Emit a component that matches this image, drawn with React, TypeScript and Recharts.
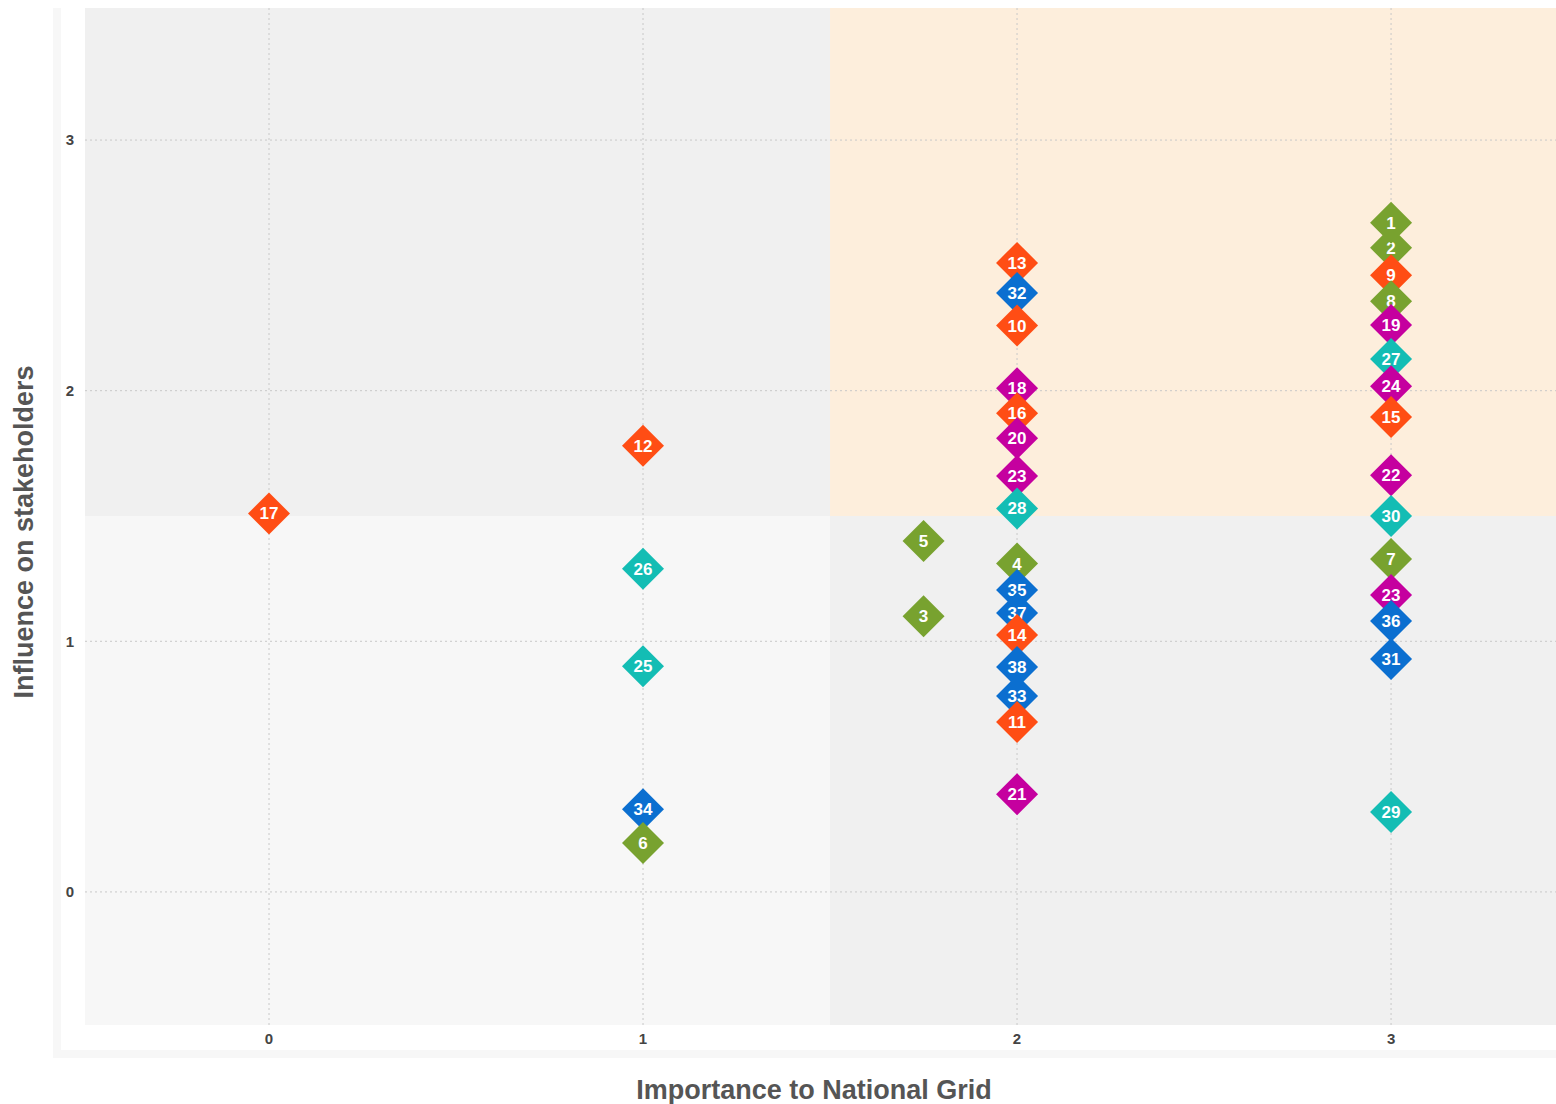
import React from "react";
import {
  ScatterChart,
  Scatter,
  XAxis,
  YAxis,
  ReferenceArea,
  ReferenceLine,
} from "recharts";

// keep the page from scrolling so the chart can run to the window edge
if (typeof document !== "undefined") {
  document.documentElement.style.overflow = "hidden";
  document.body.style.overflow = "hidden";
}

// colour per stakeholder group
const GROUP_COLORS: Record<string, string> = {
  green: "#78a22f",
  orange: "#ff4d14",
  blue: "#0b6fd0",
  teal: "#13bdb4",
  magenta: "#c5009f",
};

// points listed in the order they are painted (mostly top to bottom per column)
const POINT_IDS = [
  17, 12, 26, 25, 34, 6, 5, 3, 13, 32, 10, 18, 16, 20, 23, 28, 4, 35, 37, 14,
  38, 33, 11, 21, 2, 1, 9, 8, 19, 27, 24, 15, 22, 30, 7, 23, 36, 31, 29,
];
const POINT_X = [
  0, 1, 1, 1, 1, 1, 1.75, 1.75, 2, 2, 2, 2, 2, 2, 2, 2, 2, 2, 2, 2, 2, 2, 2, 2,
  3, 3, 3, 3, 3, 3, 3, 3, 3, 3, 3, 3, 3, 3, 3,
];
const POINT_Y = [
  1.51, 1.78, 1.29, 0.9, 0.33, 0.195, 1.4, 1.1, 2.51, 2.39, 2.26, 2.01, 1.91,
  1.81, 1.66, 1.53, 1.31, 1.205, 1.113, 1.025, 0.897, 0.782, 0.678, 0.39,
  2.57, 2.67, 2.461, 2.357, 2.262, 2.126, 2.018, 1.895, 1.663, 1.5, 1.328,
  1.185, 1.081, 0.929, 0.319,
];
const POINT_GROUP = [
  "orange", "orange", "teal", "teal", "blue", "green", "green", "green",
  "orange", "blue", "orange", "magenta", "orange", "magenta", "magenta", "teal",
  "green", "blue", "blue", "orange", "blue", "blue", "orange", "magenta",
  "green", "green", "orange", "green", "magenta", "teal", "magenta", "orange",
  "magenta", "teal", "green", "magenta", "blue", "blue", "teal",
];

const X_TICKS = [0, 1, 2, 3];
const Y_TICKS = [0, 1, 2, 3];
const X_DOMAIN: [number, number] = [-0.492, 3.441];
const Y_DOMAIN: [number, number] = [-0.531, 3.527];
const SPLIT = 1.5;

const points = POINT_IDS.map((id, i) => ({
  id,
  x: POINT_X[i],
  y: POINT_Y[i],
  color: GROUP_COLORS[POINT_GROUP[i]],
}));

const FONT = "'Liberation Sans', Arial, Helvetica, sans-serif";

const Diamond = (props: any) => {
  const { cx, cy, payload } = props;
  if (cx == null || cy == null) return null;
  const r = 21;
  return (
    <g>
      <polygon
        points={`${cx},${cy - r} ${cx + r},${cy} ${cx},${cy + r} ${cx - r},${cy}`}
        fill={payload.color}
      />
      <text
        x={cx}
        y={cy + 6}
        textAnchor="middle"
        fill="#fff"
        fontSize={17}
        fontWeight="bold"
        fontFamily={FONT}
      >
        {payload.id}
      </text>
    </g>
  );
};

const tickStyle = { fill: "#444", fontSize: 15, fontWeight: 700, fontFamily: FONT };

export default function App() {
  return (
    <div
      style={{
        position: "absolute",
        left: 8,
        top: 8,
        width: 1548,
        height: 1096,
        overflow: "hidden",
      }}
    >
      {/* light frame around plot */}
      <div
        style={{
          position: "absolute",
          left: 45,
          top: 0,
          width: 1503,
          height: 1050,
          boxSizing: "border-box",
          borderLeft: "8px solid #f7f7f7",
          borderBottom: "8px solid #f7f7f7",
        }}
      />
      <div style={{ position: "absolute", left: 0, top: 0 }}>
        <ScatterChart
          width={1548}
          height={1096}
          margin={{ top: 0, right: 0, bottom: 8, left: 0 }}
        >
          <XAxis
            type="number"
            dataKey="x"
            domain={X_DOMAIN}
            ticks={X_TICKS}
            allowDataOverflow
            axisLine={false}
            tickLine={false}
            height={71}
            tick={tickStyle}
            label={{
              content: () => (
                <text
                  x={806}
                  y={1091}
                  textAnchor="middle"
                  fill="#555"
                  fontSize={27}
                  fontWeight="bold"
                  fontFamily={FONT}
                >
                  Importance to National Grid
                </text>
              ),
            }}
          />
          <YAxis
            type="number"
            dataKey="y"
            domain={Y_DOMAIN}
            ticks={Y_TICKS}
            allowDataOverflow
            axisLine={false}
            tickLine={false}
            width={77}
            tickMargin={5}
            tick={tickStyle}
            label={{
              content: () => (
                <text
                  x={25}
                  y={524}
                  transform="rotate(-90 25 524)"
                  textAnchor="middle"
                  fill="#555"
                  fontSize={27}
                  fontWeight="bold"
                  fontFamily={FONT}
                >
                  Influence on stakeholders
                </text>
              ),
            }}
          />
          <ReferenceArea
            x1={X_DOMAIN[0]}
            x2={SPLIT}
            y1={SPLIT}
            y2={Y_DOMAIN[1]}
            fill="#f0f0f0"
            fillOpacity={1}
            stroke="none"
          />
          <ReferenceArea
            x1={SPLIT}
            x2={X_DOMAIN[1]}
            y1={SPLIT}
            y2={Y_DOMAIN[1]}
            fill="#fdeedc"
            fillOpacity={1}
            stroke="none"
          />
          <ReferenceArea
            x1={X_DOMAIN[0]}
            x2={SPLIT}
            y1={Y_DOMAIN[0]}
            y2={SPLIT}
            fill="#f7f7f7"
            fillOpacity={1}
            stroke="none"
          />
          <ReferenceArea
            x1={SPLIT}
            x2={X_DOMAIN[1]}
            y1={Y_DOMAIN[0]}
            y2={SPLIT}
            fill="#f0f0f0"
            fillOpacity={1}
            stroke="none"
          />
          {X_TICKS.map((t) => (
            <ReferenceLine
              key={`vx${t}`}
              x={t}
              stroke="#c8c8c8"
              strokeDasharray="2 3"
            />
          ))}
          {Y_TICKS.map((t) => (
            <ReferenceLine
              key={`hy${t}`}
              y={t}
              stroke="#c8c8c8"
              strokeDasharray="2 3"
            />
          ))}
          <Scatter
            data={points}
            shape={Diamond}
            isAnimationActive={false}
          />
        </ScatterChart>
      </div>
    </div>
  );
}
